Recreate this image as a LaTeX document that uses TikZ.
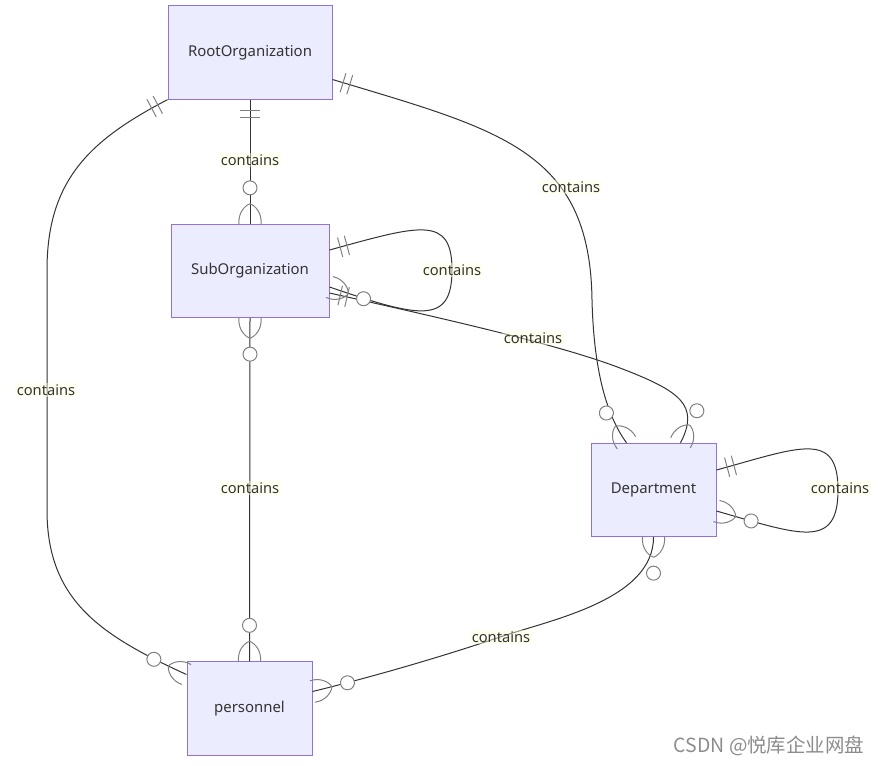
\documentclass[tikz,border=0pt]{standalone}
\usepackage{fontspec}
\setmainfont{Noto Sans}
\newfontfamily\cjk{Noto Sans CJK SC}
\usetikzlibrary{calc}
\definecolor{entfill}{HTML}{ECECFF}
\definecolor{entline}{HTML}{9370DB}
\definecolor{relline}{HTML}{333333}
\definecolor{markgray}{HTML}{808080}
\definecolor{lblfill}{HTML}{FFFFDE}
\tikzset{
  entity/.style={draw=entline, fill=entfill, line width=0.75pt, text=relline,
    font=\fontsize{11.2}{13}\selectfont, minimum height=70pt},
  rel/.style={draw=relline, line width=0.75pt},
  rellabel/.style={fill=lblfill, fill opacity=0.45, text opacity=1, text=relline,
    inner sep=1pt, font=\fontsize{11}{13}\selectfont},
  markline/.style={draw=markgray, line width=0.75pt},
  % one and only one
  onlyone/.pic={\draw[markline] (11,-10) -- (11,10) (18,-10) -- (18,10);},
  % zero or more
  zeromany/.pic={
    \draw[markline] (0,11) .. controls (10,12) and (18,6) .. (20,0)
      (0,-11) .. controls (10,-12) and (18,-6) .. (20,0);
    \draw[markline, fill=white] (36,0) circle[radius=7];}
}

\begin{document}
\begin{tikzpicture}[x=0.75pt, y=-0.75pt]
  \useasboundingbox (0,0) rectangle (880,765);
  \node[entity, minimum width=123pt] (root) at (250,52.5) {RootOrganization};
  \node[entity, minimum width=118.5pt] (sub) at (250,271) {SubOrganization};
  \node[entity, minimum width=93.75pt] (dept) at (653.5,490) {Department};
  \node[entity, minimum width=93.75pt] (pers) at (249.5,708.5) {personnel};

  \draw[rel] (root.south) -- (sub.north);
  \draw[rel] (sub.south) -- (pers.north);
  \draw[rel] (root.south west) .. controls (90,140) and (47,180) .. (47,270) -- (47,510)
    .. controls (47,600) and (100,635) .. ($(pers.west)+(0,-34)$);
  \draw[rel] ($(root.east)+(0,27)$) .. controls (500,130) and (590,150) .. (592,300)
    .. controls (594,380) and (610,420) .. ($(dept.north)+(-27,0)$);
  \draw[rel] ($(sub.east)+(0,22)$) .. controls (450,320) and (560,345) .. (620,368)
    .. controls (680,391) and (700,405) .. ($(dept.north)+(27,0)$);
  \draw[rel] ($(sub.east)+(0,-21)$) .. controls (420,225) and (452,215) .. (452,270)
    .. controls (452,325) and (420,318) .. ($(sub.east)+(0,16)$);
  \draw[rel] ($(dept.east)+(0,-20)$) .. controls (800,447) and (838,430) .. (838,490)
    .. controls (838,550) and (800,535) .. ($(dept.east)+(0,21)$);
  \draw[rel] (dept.south) .. controls (653.5,600) and (550,620) .. (500,637)
    .. controls (450,654) and (380,675) .. ($(pers.east)+(0,-17)$);

  % ends
  \pic[rotate=-90] at (root.south) {onlyone};
  \pic[rotate=90] at (sub.north) {zeromany};
  \pic[rotate=-90] at (sub.south) {zeromany};
  \pic[rotate=90] at (pers.north) {zeromany};
  \pic[rotate=208] at (root.south west) {onlyone};
  \pic[rotate=155] at ($(pers.west)+(0,-34)$) {zeromany};
  \pic[rotate=-17] at ($(root.east)+(0,27)$) {onlyone};
  \pic[rotate=124] at ($(dept.north)+(-27,0)$) {zeromany};
  \pic[rotate=-13] at ($(sub.east)+(0,22)$) {onlyone};
  \pic[rotate=63] at ($(dept.north)+(27,0)$) {zeromany};
  \pic[rotate=15] at ($(sub.east)+(0,-21)$) {onlyone};
  \pic[rotate=-19] at ($(sub.east)+(0,16)$) {zeromany};
  \pic[rotate=15] at ($(dept.east)+(0,-20)$) {onlyone};
  \pic[rotate=-16] at ($(dept.east)+(0,21)$) {zeromany};
  \pic[rotate=-90] at (dept.south) {zeromany};
  \pic[rotate=14] at ($(pers.east)+(0,-17)$) {zeromany};

  \node[rellabel] (rs) at (250,160) {contains};
  \node[rellabel] (sp) at (250,488) {contains};
  \node[rellabel] (rp) at (46,390) {contains};
  \node[rellabel] (rd) at (571,187) {contains};
  \node[rellabel] (sd) at (533,338) {contains};
  \node[rellabel] (ss) at (452,270) {contains};
  \node[rellabel] (dd) at (840,488) {contains};
  \node[rellabel] (dp) at (501,637) {contains};

  \node[text=black!45, font=\cjk\fontsize{14.6}{17}\selectfont] (mark) at (769,746) {CSDN @悦库企业网盘};
\end{tikzpicture}
\end{document}
